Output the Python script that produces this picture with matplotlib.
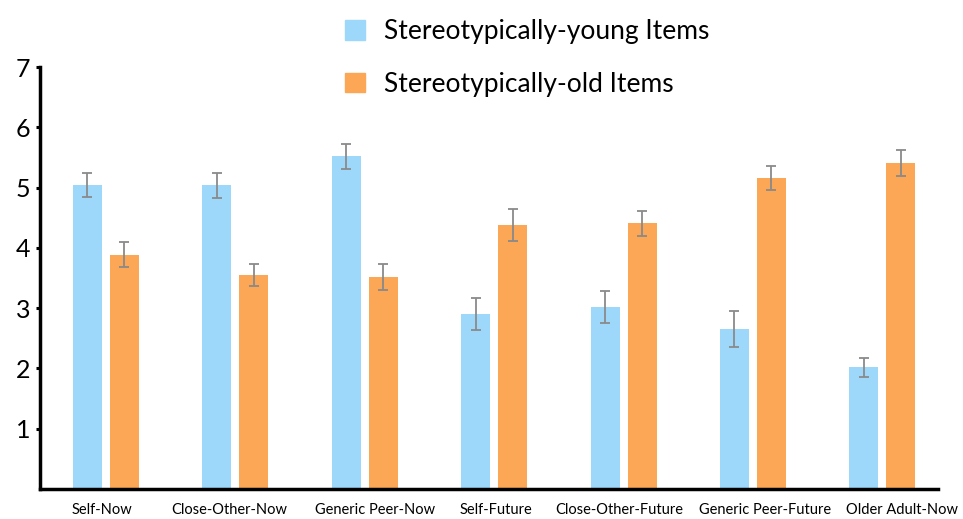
import matplotlib.pyplot as plt
import matplotlib.transforms as mtransforms
import numpy as np
from matplotlib.patches import Patch

plt.rcParams['font.family'] = ['Lato', 'DejaVu Sans']

# ratings per target condition
conditions = ['Self-Now', 'Close-Other-Now', 'Generic Peer-Now', 'Self-Future',
              'Close-Other-Future', 'Generic Peer-Future', 'Older Adult-Now']
young_mean = [5.05, 5.04, 5.52, 2.90, 3.02, 2.66, 2.02]
young_err = [0.20, 0.21, 0.21, 0.27, 0.26, 0.30, 0.16]
old_mean = [3.89, 3.55, 3.52, 4.38, 4.41, 5.16, 5.41]
old_err = [0.20, 0.18, 0.22, 0.26, 0.21, 0.20, 0.21]

# horizontal nudge (pixels) of each category label
label_shift = [-4, -6, 10, 2, -4, 12, 20]

blue = '#9dd7f9'
orange = '#fba755'

fig = plt.figure(figsize=(9.63, 5.19), dpi=100)
ax = fig.add_axes([0.0415, 0.0578, 0.9325, 0.813])

x = np.arange(len(conditions))
w = 0.224
off = 0.143
ekw = dict(ecolor='#8a8a8a', elinewidth=1.3, capsize=3.5, capthick=1.3)
ax.bar(x - off, young_mean, w, color=blue, yerr=young_err, error_kw=ekw)
ax.bar(x + off, old_mean, w, color=orange, yerr=old_err, error_kw=ekw)

ax.set_xlim(-0.51, 6.43)
ax.set_ylim(0, 7)
ax.set_yticks(range(1, 8))
ax.set_xticks(x)
ax.tick_params(axis='y', labelsize=18, direction='out', length=3, width=2.2, pad=4)
ax.tick_params(axis='x', length=0, pad=10)
ax.set_xticklabels(conditions, fontsize=10.5)
for lab, dx in zip(ax.get_xticklabels(), label_shift):
    lab.set_transform(lab.get_transform() +
                      mtransforms.ScaledTranslation(dx / 100, 0, fig.dpi_scale_trans))
for s in ['top', 'right']:
    ax.spines[s].set_visible(False)
for s in ['left', 'bottom']:
    ax.spines[s].set_linewidth(2.5)

handles = [Patch(color=blue), Patch(color=orange)]
fig.legend(handles, ['Stereotypically-young Items', 'Stereotypically-old Items'],
           loc='upper left', bbox_to_anchor=(332 / 963, 1 - 6 / 519), frameon=False,
           fontsize=19, borderpad=0, handlelength=0.76, handleheight=0.76,
           handletextpad=0.7, labelspacing=1.05)

fig.savefig('out.png', dpi=100)
